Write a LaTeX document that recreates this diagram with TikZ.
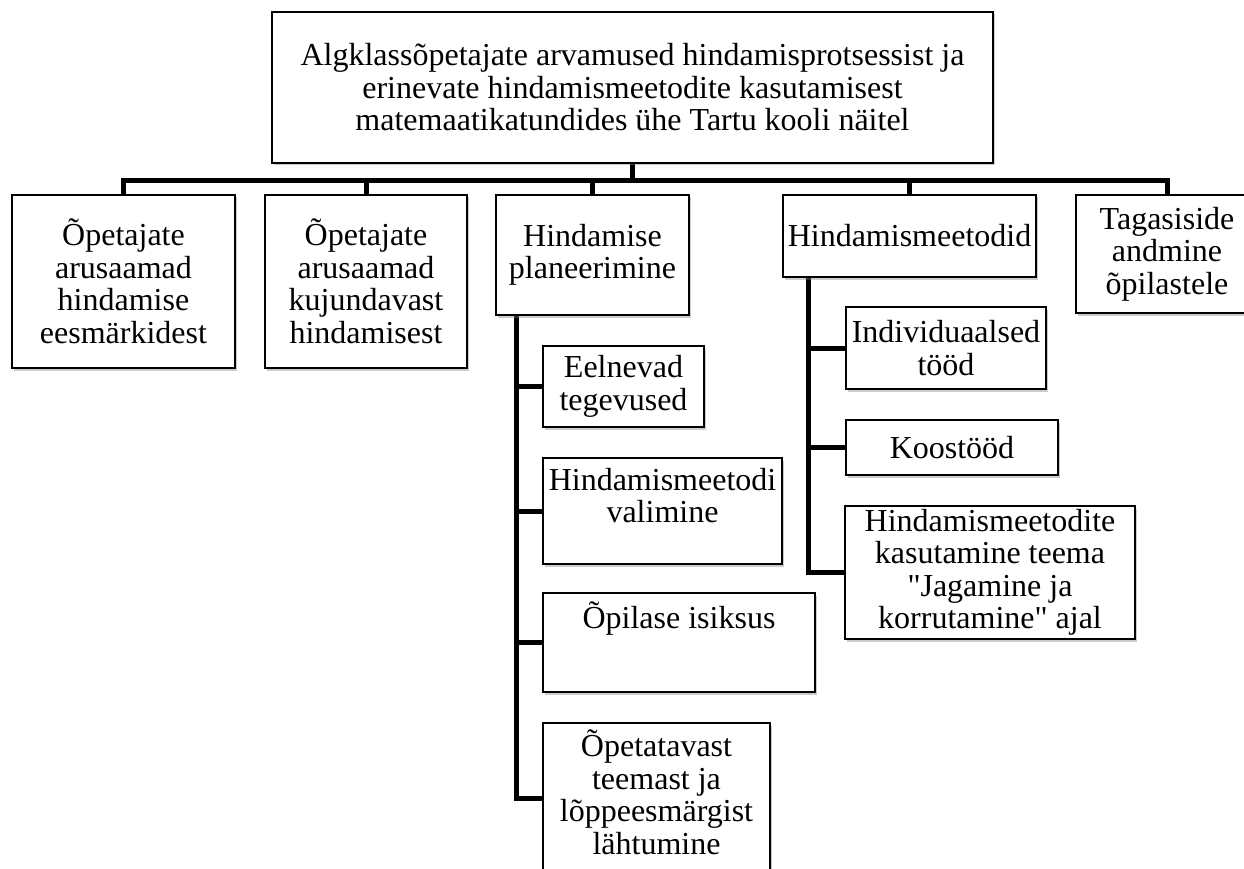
\documentclass[tikz,border=0pt]{standalone}
\usepackage{fontspec}
\setmainfont{Liberation Serif}[Ligatures=TeXOff]
\usetikzlibrary{shadows,backgrounds}
\begin{document}
\begin{tikzpicture}[x=1pt,y=-1pt,
  box/.style={draw=black, line width=1.1pt, fill=white, inner sep=0pt, outer sep=0pt,
    anchor=north west, align=center, font=\fontsize{32}{32.5}\selectfont,
    drop shadow={shadow xshift=1.5pt, shadow yshift=-2.5pt, opacity=0.4}},
  conn/.style={line width=5pt, draw=black, line join=miter},
  lab/.style={anchor=north, align=center, font=\fontsize{32}{32.5}\selectfont, inner sep=0pt}
]
\useasboundingbox (0,0) rectangle (1244,869);

% root
\node[box, minimum width=721pt, minimum height=151pt] (top) at (272,12)
  {Algklassõpetajate arvamused hindamisprotsessist ja\\ erinevate hindamismeetodite kasutamisest\\ matemaatikatundides ühe Tartu kooli näitel};

% first level
\node[box, minimum width=223pt, minimum height=173pt] (b1) at (12,195)
  {Õpetajate\\arusaamad\\hindamise\\eesmärkidest};
\node[box, minimum width=202pt, minimum height=173pt] (b2) at (265,195)
  {Õpetajate\\arusaamad\\kujundavast\\hindamisest};
\node[box, minimum width=193pt, minimum height=120pt] (plan) at (496,195)
  {Hindamise\\planeerimine};
\node[box, minimum width=253pt, minimum height=82pt] (meth) at (783,195)
  {Hindamismeetodid};
\node[box, minimum width=182pt, minimum height=118pt] (tag) at (1076,195)
  {Tagasiside\\andmine\\õpilastele};

% children of planeerimine
\node[box, minimum width=161pt, minimum height=81pt] (eel) at (543,346)
  {Eelnevad\\tegevused};
\node[box, minimum width=239pt, minimum height=106pt,
  label={[lab, yshift=-10pt]north:Hindamismeetodi\\valimine}] (val) at (543,458) {};
\node[box, minimum width=272pt, minimum height=99pt,
  label={[lab, yshift=-9pt]north:Õpilase isiksus}] (isik) at (543,593) {};
\node[box, minimum width=227pt, minimum height=150pt,
  label={[lab, yshift=-7pt]north:Õpetatavast\\teemast ja\\lõppeesmärgist\\lähtumine}] (opet) at (543,723) {};

% children of hindamismeetodid
\node[box, minimum width=200pt, minimum height=82pt] (indiv) at (846,307)
  {Individuaalsed\\tööd};
\node[box, minimum width=212pt, minimum height=55pt] (koos) at (846,420)
  {Koostööd};
\node[box, minimum width=290pt, minimum height=133pt] (kasut) at (845,506)
  {Hindamismeetodite\\kasutamine teema\\"Jagamine ja\\korrutamine" ajal};

\begin{scope}[on background layer]
  \draw[conn] (top.south) -- ++(0,18) -| (b1.north);
  \draw[conn] (top.south) -- ++(0,18) -| (b2.north);
  \draw[conn] (top.south) -- ++(0,18) -| (plan.north);
  \draw[conn] (top.south) -- ++(0,18) -| (meth.north);
  \draw[conn] (top.south) -- ++(0,18) -| (tag.north);

  \coordinate (pv) at ([xshift=20pt]plan.south west);
  \draw[conn] (pv) |- (eel.west);
  \draw[conn] (pv) |- (val.west);
  \draw[conn] (pv) |- (isik.west);
  \draw[conn] (pv) |- (opet.west);

  \coordinate (mv) at ([xshift=25pt]meth.south west);
  \draw[conn] (mv) |- (indiv.west);
  \draw[conn] (mv) |- (koos.west);
  \draw[conn] (mv) |- (kasut.west);
\end{scope}
\end{tikzpicture}
\end{document}
